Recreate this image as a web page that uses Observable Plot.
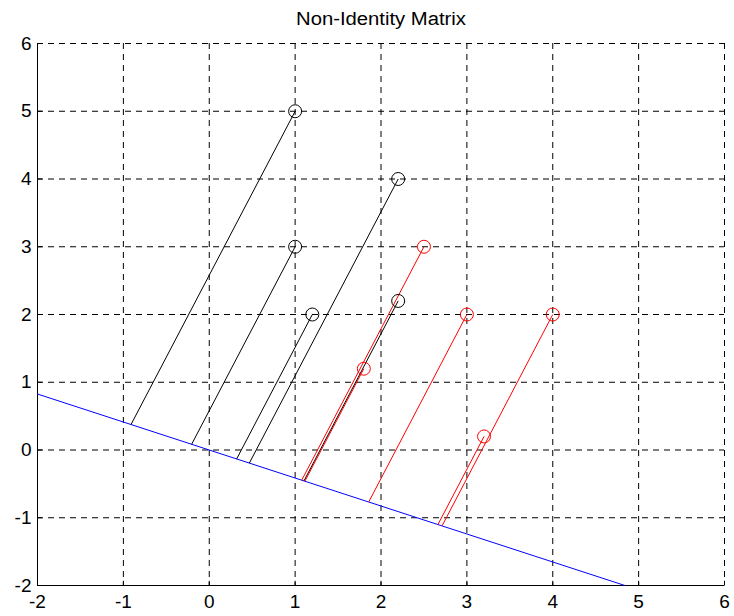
<!DOCTYPE html>
<html>
<head>
<meta charset="utf-8">
<script src="https://cdn.jsdelivr.net/npm/d3@7"></script>
<script src="https://cdn.jsdelivr.net/npm/@observablehq/plot@0.6"></script>
<style>
  html, body { margin: 0; padding: 0; background: #fff; }
  #chart svg { display: block; }
</style>
</head>
<body>
<div id="chart"></div>
<script>
const titleText = "Non-Identity Matrix";
const xTicks = [-2, -1, 0, 1, 2, 3, 4, 5, 6];
const yTicks = [-2, -1, 0, 1, 2, 3, 4, 5, 6];

// Blue projection line endpoints
const lineX = [-2, 4.84];
const lineY = [0.826, -2];

// Black points and their projections on the line
const blackX = [1, 2.2, 1, 1.2, 2.2];
const blackY = [5, 4, 3, 2, 2.2];
const blackPX = [-0.911, 0.467, -0.205, 0.319, 1.103];
const blackPY = [0.376, -0.193, 0.085, -0.132, -0.456];

// Red points and their projections on the line
const redX = [2.5, 1.8, 3, 4, 3.2];
const redY = [3, 1.2, 2, 2, 0.2];
const redPX = [1.077, 1.114, 1.857, 2.711, 2.663];
const redPY = [-0.445, -0.460, -0.767, -1.120, -1.100];

const blackData = blackX.map((x, i) => ({x, y: blackY[i], px: blackPX[i], py: blackPY[i]}));
const redData = redX.map((x, i) => ({x, y: redY[i], px: redPX[i], py: redPY[i]}));
const lineData = lineX.map((x, i) => ({x, y: lineY[i]}));

const font = "'Liberation Sans', Arial, sans-serif";

const chart = Plot.plot({
  width: 734,
  height: 616,
  marginLeft: 37,
  marginRight: 10,
  marginTop: 43,
  marginBottom: 31,
  style: {fontFamily: font, fontSize: "19px", color: "#000", background: "#fff"},
  x: {domain: [-2, 6], label: null},
  y: {domain: [-2, 6], label: null},
  marks: [
    Plot.gridX(xTicks, {stroke: "#000", strokeOpacity: 1, strokeDasharray: "6,5", strokeWidth: 1}),
    Plot.gridY(yTicks, {stroke: "#000", strokeOpacity: 1, strokeDasharray: "6,5", strokeWidth: 1}),
    Plot.axisX({ticks: xTicks, tickSize: 0, tickPadding: 9, fontSize: 19, tickFormat: d => d, label: null}),
    Plot.axisY({ticks: yTicks, tickSize: 0, tickPadding: 6, fontSize: 19, tickFormat: d => d, label: null}),
    Plot.ruleY([-2], {stroke: "#000", strokeWidth: 1}),
    Plot.ruleX([-2], {stroke: "#000", strokeWidth: 1}),
    Plot.link(xTicks, {x1: d => d, x2: d => d, y1: -2, y2: -1.93, stroke: "#000"}),
    Plot.link(yTicks, {y1: d => d, y2: d => d, x1: -2, x2: -1.945, stroke: "#000"}),
    Plot.line(lineData, {x: "x", y: "y", stroke: "#0000ff", strokeWidth: 1}),
    Plot.link(blackData, {x1: "x", y1: "y", x2: "px", y2: "py", stroke: "#000", strokeWidth: 1}),
    Plot.link(redData, {x1: "x", y1: "y", x2: "px", y2: "py", stroke: "#ff0000", strokeWidth: 1}),
    Plot.dot(blackData, {x: "x", y: "y", r: 6.5, stroke: "#000", fill: "none", strokeWidth: 1}),
    Plot.dot(redData, {x: "x", y: "y", r: 6.5, stroke: "#ff0000", fill: "none", strokeWidth: 1}),
    Plot.text([titleText], {frameAnchor: "top", lineAnchor: "middle", dy: -24, text: d => d, fontSize: 18, fill: "#000", fontFamily: font})
  ]
});
const svg = d3.select(chart);
svg.selectAll("text").filter(function () { return this.textContent === titleText; })
  .attr("textLength", 170).attr("lengthAdjust", "spacingAndGlyphs");
document.getElementById("chart").appendChild(chart);
</script>
</body>
</html>
